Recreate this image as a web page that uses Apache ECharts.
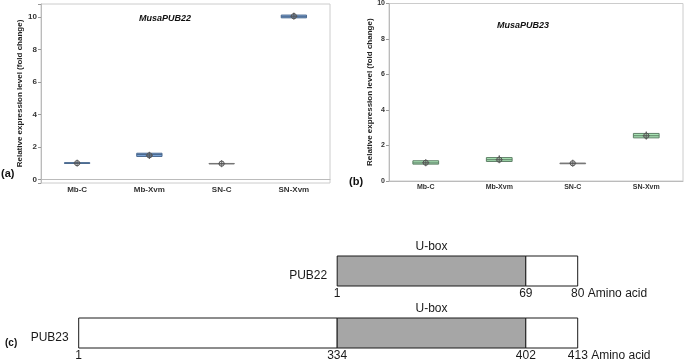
<!DOCTYPE html>
<html>
<head>
<meta charset="utf-8">
<script src="https://cdn.jsdelivr.net/npm/echarts@6/dist/echarts.min.js"></script>
<style>
  html, body { margin: 0; padding: 0; background: #fff; }
  #chart { width: 685px; height: 364px; }
</style>
</head>
<body>
<div id="chart"></div>
<script>
  var FONT = '"Liberation Sans", Arial, sans-serif';

  // expression (box plot) data: [min, q1, median, q3, max]
  var categories = ['Mb-C', 'Mb-Xvm', 'SN-C', 'SN-Xvm'];
  var pub22Box = [
    [0.97, 1.0, 1.02, 1.05, 1.08],
    [1.3, 1.43, 1.55, 1.63, 1.66],
    [1.0, 1.0, 1.0, 1.0, 1.0],
    [9.95, 9.95, 10.02, 10.12, 10.25]
  ];
  var pub22Mean = [1.02, 1.5, 0.99, 10.05];
  var pub23Box = [
    [0.9, 0.95, 1.02, 1.14, 1.18],
    [1.08, 1.1, 1.2, 1.32, 1.45],
    [1.0, 1.0, 1.0, 1.0, 1.0],
    [2.34, 2.43, 2.55, 2.68, 2.79]
  ];
  var pub23Mean = [1.03, 1.2, 1.0, 2.55];

  // domain diagram: residue numbers and where each boundary sits on the schematic (0-100)
  var proteins = ['PUB22', 'PUB23'];
  var pub22Bounds = [1, 69, 80];
  var pub22Pos = [51.8, 89.6, 100];
  var pub22Domains = ['U-box', ''];
  var pub23Bounds = [1, 334, 402, 413];
  var pub23Pos = [0, 51.8, 89.6, 100];
  var pub23Domains = ['', 'U-box', ''];

  function boxData(box, mean) {
    return box.map(function (b, i) { return [i].concat(b).concat([mean[i]]); });
  }

  function boxItem(fill, stroke) {
    return function (params, api) {
      var c = api.value(0);
      var lo = api.coord([c, api.value(1)]);
      var q1 = api.coord([c, api.value(2)]);
      var md = api.coord([c, api.value(3)]);
      var q3 = api.coord([c, api.value(4)]);
      var hi = api.coord([c, api.value(5)]);
      var mn = api.coord([c, api.value(6)]);
      var w = api.size([1, 0])[0] * 0.35;
      var x0 = lo[0] - w / 2;
      var flat = q1[1] - q3[1] < 0.5;
      var r = 2.6;
      return {
        type: 'group',
        children: [
          {type: 'line', shape: {x1: lo[0], y1: lo[1], x2: lo[0], y2: q1[1]}, style: {stroke: '#555', lineWidth: 1}},
          {type: 'line', shape: {x1: hi[0], y1: hi[1], x2: hi[0], y2: q3[1]}, style: {stroke: '#555', lineWidth: 1}},
          {type: 'rect', shape: {x: x0, y: q3[1], width: w, height: Math.max(q1[1] - q3[1], 0.5)},
            style: {fill: flat ? 'none' : fill, stroke: flat ? '#777' : stroke, lineWidth: 1}},
          {type: 'line', shape: {x1: x0, y1: md[1], x2: x0 + w, y2: md[1]}, style: {stroke: flat ? '#777' : stroke, lineWidth: 1}},
          {type: 'circle', shape: {cx: mn[0], cy: mn[1], r: r}, style: {fill: 'rgba(120,120,120,0.25)', stroke: '#555', lineWidth: 1}},
          {type: 'line', shape: {x1: mn[0] - r - 1, y1: mn[1], x2: mn[0] + r + 1, y2: mn[1]}, style: {stroke: '#555', lineWidth: 0.8}},
          {type: 'line', shape: {x1: mn[0], y1: mn[1] - r - 1, x2: mn[0], y2: mn[1] + r + 1}, style: {stroke: '#555', lineWidth: 0.8}}
        ]
      };
    };
  }

  // segments: [row, start, end], names per segment kept alongside
  var segData = [], segDomain = [], segFirst = [];
  var tickData = [], tickText = [];
  [[pub22Pos, pub22Bounds, pub22Domains], [pub23Pos, pub23Bounds, pub23Domains]].forEach(function (p, row) {
    var pos = p[0], bounds = p[1], doms = p[2];
    for (var i = 0; i < pos.length - 1; i++) {
      segData.push([row, pos[i], pos[i + 1]]);
      segDomain.push(doms[i]);
      segFirst.push(i === 0 ? proteins[row] : '');
    }
    for (var j = 0; j < bounds.length; j++) {
      tickData.push([row, pos[j]]);
      tickText.push(j === bounds.length - 1 ? bounds[j] + ' Amino acid' : String(bounds[j]));
    }
  });

  function segItem(params, api) {
    var row = api.value(0);
    var a = api.coord([api.value(1), row]);
    var b = api.coord([api.value(2), row]);
    var h = 30;
    var dom = segDomain[params.dataIndex];
    var name = segFirst[params.dataIndex];
    var children = [
      {type: 'rect', shape: {x: a[0], y: a[1] - h / 2, width: b[0] - a[0], height: h},
        style: {fill: dom ? '#a6a6a6' : '#fff', stroke: '#1a1a1a', lineWidth: 1}}
    ];
    if (dom) {
      children.push({type: 'text', style: {text: dom, x: (a[0] + b[0]) / 2, y: a[1] - h / 2 - 3,
        align: 'center', verticalAlign: 'bottom', font: '12px ' + FONT, fill: '#1a1a1a'}});
    }
    if (name) {
      children.push({type: 'text', style: {text: name, x: a[0] - 10, y: a[1] + 5,
        align: 'right', verticalAlign: 'middle', font: '12px ' + FONT, fill: '#1a1a1a'}});
    }
    return {type: 'group', children: children};
  }

  function tickItem(params, api) {
    var p = api.coord([api.value(1), api.value(0)]);
    var txt = tickText[params.dataIndex];
    var num = txt.split(' ')[0];
    var long = txt !== num;
    return {
      type: 'text',
      style: {text: txt, x: long ? p[0] - num.length * 3.3 : p[0], y: p[1] + 17,
        align: long ? 'left' : 'center', verticalAlign: 'top', font: '12px ' + FONT, fill: '#1a1a1a'}
    };
  }

  function evenLabel(v) {
    return Math.abs(v % 2) < 1e-6 ? String(v) : '';
  }

  var chart = echarts.init(document.getElementById('chart'));
  chart.setOption({
    animation: false,
    backgroundColor: '#fff',
    textStyle: {fontFamily: FONT},
    title: [
      {text: 'MusaPUB22', left: 165, top: 14, textAlign: 'center', padding: 0,
        textStyle: {fontSize: 9, fontStyle: 'italic', fontWeight: 'bold', color: '#111', fontFamily: FONT}},
      {text: 'MusaPUB23', left: 523, top: 21, textAlign: 'center', padding: 0,
        textStyle: {fontSize: 9, fontStyle: 'italic', fontWeight: 'bold', color: '#111', fontFamily: FONT}},
      {text: '(a)', left: 1, top: 168, padding: 0,
        textStyle: {fontSize: 11, fontWeight: 'bold', color: '#111', fontFamily: FONT}},
      {text: '(b)', left: 349, top: 176, padding: 0,
        textStyle: {fontSize: 11, fontWeight: 'bold', color: '#111', fontFamily: FONT}},
      {text: '(c)', left: 5, top: 338, padding: 0,
        textStyle: {fontSize: 10, fontWeight: 'bold', color: '#111', fontFamily: FONT}}
    ],
    grid: [
      {left: 41, top: 4, width: 289, height: 179, show: true, borderColor: '#ccc', borderWidth: 1},
      {left: 389, top: 3, width: 294, height: 178, show: true, borderColor: '#ccc', borderWidth: 1},
      {left: 78.7, top: 240, width: 499, height: 124}
    ],
    xAxis: [
      {gridIndex: 0, type: 'category', data: categories,
        axisLine: {lineStyle: {color: '#bbb'}},
        axisTick: {alignWithLabel: true, length: 3, lineStyle: {color: '#999'}},
        axisLabel: {fontSize: 8, fontWeight: 'bold', color: '#333', margin: 3}},
      {gridIndex: 1, type: 'category', data: categories,
        axisLine: {lineStyle: {color: '#bbb'}},
        axisTick: {alignWithLabel: true, length: 3, lineStyle: {color: '#999'}},
        axisLabel: {fontSize: 7, fontWeight: 'bold', color: '#333', margin: 3}},
      {gridIndex: 2, type: 'value', min: 0, max: 100, show: false}
    ],
    yAxis: [
      {gridIndex: 0, type: 'value', min: -0.2, max: 10.8, splitLine: {show: false},
        axisLine: {show: true, lineStyle: {color: '#bbb'}},
        axisTick: {show: true, length: 3, lineStyle: {color: '#999'}},
        axisLabel: {fontSize: 8, fontWeight: 'bold', color: '#333', margin: 4, formatter: evenLabel},
        name: 'Relative expression level (fold change)', nameLocation: 'middle', nameGap: 16,
        nameTextStyle: {fontSize: 8, fontWeight: 'bold', color: '#222'}},
      {gridIndex: 1, type: 'value', min: 0, max: 10, interval: 2, splitLine: {show: false},
        axisLine: {show: true, lineStyle: {color: '#bbb'}},
        axisTick: {show: true, length: 3, lineStyle: {color: '#999'}},
        axisLabel: {fontSize: 7, fontWeight: 'bold', color: '#333', margin: 4},
        name: 'Relative expression level (fold change)', nameLocation: 'middle', nameGap: 14,
        nameTextStyle: {fontSize: 8, fontWeight: 'bold', color: '#222'}},
      {gridIndex: 2, type: 'category', data: proteins, inverse: true, show: false}
    ],
    series: [
      {type: 'custom', name: 'MusaPUB22', xAxisIndex: 0, yAxisIndex: 0,
        data: boxData(pub22Box, pub22Mean), renderItem: boxItem('#7ea6d9', '#4c6a90')},
      {type: 'custom', name: 'MusaPUB23', xAxisIndex: 1, yAxisIndex: 1,
        data: boxData(pub23Box, pub23Mean), renderItem: boxItem('#a8e4b4', '#5f8068')},
      {type: 'custom', name: 'domains', xAxisIndex: 2, yAxisIndex: 2,
        data: segData, renderItem: segItem},
      {type: 'custom', name: 'residues', xAxisIndex: 2, yAxisIndex: 2,
        data: tickData, renderItem: tickItem}
    ]
  });
</script>
</body>
</html>
